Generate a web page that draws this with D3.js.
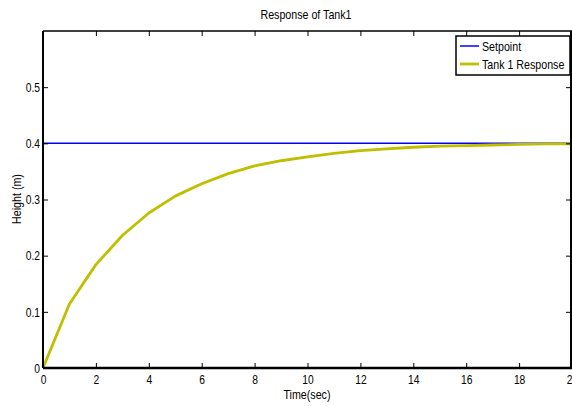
<!DOCTYPE html>
<html><head><meta charset="utf-8">
<script src="https://cdn.jsdelivr.net/npm/d3@7"></script>
<style>body{margin:0;background:#fff}svg{display:block}text{font-family:"Liberation Sans",Arial,sans-serif}</style>
</head><body><div id="c"></div>
<script>
const time = [0,1,2,3,4,5,6,7,8,9,10,11,12,13,14,15,16,17,18,19,20];
const setpoint = [0.4,0.4,0.4,0.4,0.4,0.4,0.4,0.4,0.4,0.4,0.4,0.4,0.4,0.4,0.4,0.4,0.4,0.4,0.4,0.4,0.4];
const tank1 = [0,0.114,0.184,0.236,0.276,0.306,0.328,0.346,0.360,0.369,0.376,0.382,0.387,0.390,0.393,0.395,0.396,0.397,0.398,0.399,0.399];
const xTicks = [0,2,4,6,8,10,12,14,16,18,20];
const yTicks = [0,0.1,0.2,0.3,0.4,0.5];
const seriesNames = ["Setpoint","Tank 1 Response"];
const seriesColors = ["#0000ff","#bfbf00"];

const W=572,H=406;
const m={l:43,r:0,t:31,b:38};
const svg=d3.select("#c").append("svg").attr("width",W).attr("height",H);
const x=d3.scaleLinear().domain([0,20]).range([m.l,W-m.r]);
const y=d3.scaleLinear().domain([0,0.6]).range([H-m.b,m.t]);

function narrow(sel,f){
  sel.each(function(){
    const w=this.getComputedTextLength();
    if(w>0){d3.select(this).attr("textLength",w*f).attr("lengthAdjust","spacingAndGlyphs");}
  });
}

// lines
const line=d3.line().x((d,i)=>x(time[i])).y(d=>y(d));
svg.append("path").datum(setpoint).attr("d",line).attr("fill","none").attr("stroke",seriesColors[0]).attr("stroke-width",1.5);
svg.append("path").datum(tank1).attr("d",line).attr("fill","none").attr("stroke",seriesColors[1]).attr("stroke-width",2.8).attr("stroke-linejoin","round");

// axes
const fs=13;
const gBottom=svg.append("g").attr("transform",`translate(0,${y(0)})`)
  .call(d3.axisBottom(x).tickValues(xTicks).tickSize(-5).tickPadding(8).tickFormat(d3.format("d")));
const gLeft=svg.append("g").attr("transform",`translate(${x(0)},0)`)
  .call(d3.axisLeft(y).tickValues(yTicks).tickSize(-5).tickPadding(3).tickFormat(d=>d===0?"0":d3.format(".1f")(d)));
const gTop=svg.append("g").attr("transform",`translate(0,${y(0.6)})`)
  .call(d3.axisTop(x).tickValues(xTicks).tickSize(-5).tickFormat(""));
const gRight=svg.append("g").attr("transform",`translate(${x(20)-1},0)`)
  .call(d3.axisRight(y).tickValues(yTicks).tickSize(-5).tickFormat(""));
[gBottom,gLeft,gTop,gRight].forEach(g=>{
  g.selectAll("text").attr("font-size",fs).attr("fill","#000").attr("font-family","Liberation Sans, Arial, sans-serif");
  g.selectAll("line").attr("stroke","#000").attr("stroke-width",1);
});
gBottom.select(".domain").attr("stroke","#000").attr("stroke-width",2.5).attr("d",`M${x(0)},0H${x(20)}`);
gLeft.select(".domain").attr("stroke","#000").attr("stroke-width",2).attr("d",`M0,${y(0)}V${y(0.6)}`);
gTop.select(".domain").attr("stroke","#000").attr("stroke-width",1.5).attr("d",`M${x(0)},0H${x(20)}`);
gRight.select(".domain").attr("stroke","#000").attr("stroke-width",2).attr("d",`M0,${y(0)}V${y(0.6)}`);
gBottom.selectAll(".tick text").attr("dy","0.6em");
narrow(gBottom.selectAll(".tick text"),0.79);
narrow(gLeft.selectAll(".tick text"),0.79);

// title and labels
const t1=svg.append("text").attr("x",306).attr("y",19).attr("text-anchor","middle").attr("font-size",13).text("Response of Tank1");
const t2=svg.append("text").attr("x",307).attr("y",399).attr("text-anchor","middle").attr("font-size",13).text("Time(sec)");
const t3=svg.append("text").attr("transform","translate(21,199) rotate(-90)").attr("text-anchor","middle").attr("font-size",13).text("Height (m)");
narrow(t1,0.82);narrow(t2,0.82);narrow(t3,0.82);

// legend
const lg=svg.append("g");
lg.append("rect").attr("x",456).attr("y",36).attr("width",114).attr("height",39).attr("fill","#fff").attr("stroke","#000").attr("stroke-width",1.5);
seriesNames.forEach((n,i)=>{
  const yy=46+i*18;
  lg.append("line").attr("x1",460).attr("x2",479).attr("y1",yy).attr("y2",yy).attr("stroke",seriesColors[i]).attr("stroke-width",i?2.8:1.5);
  const t=lg.append("text").attr("x",482).attr("y",yy+4.5).attr("font-size",13).text(n);
  narrow(t,0.82);
});
</script></body></html>
